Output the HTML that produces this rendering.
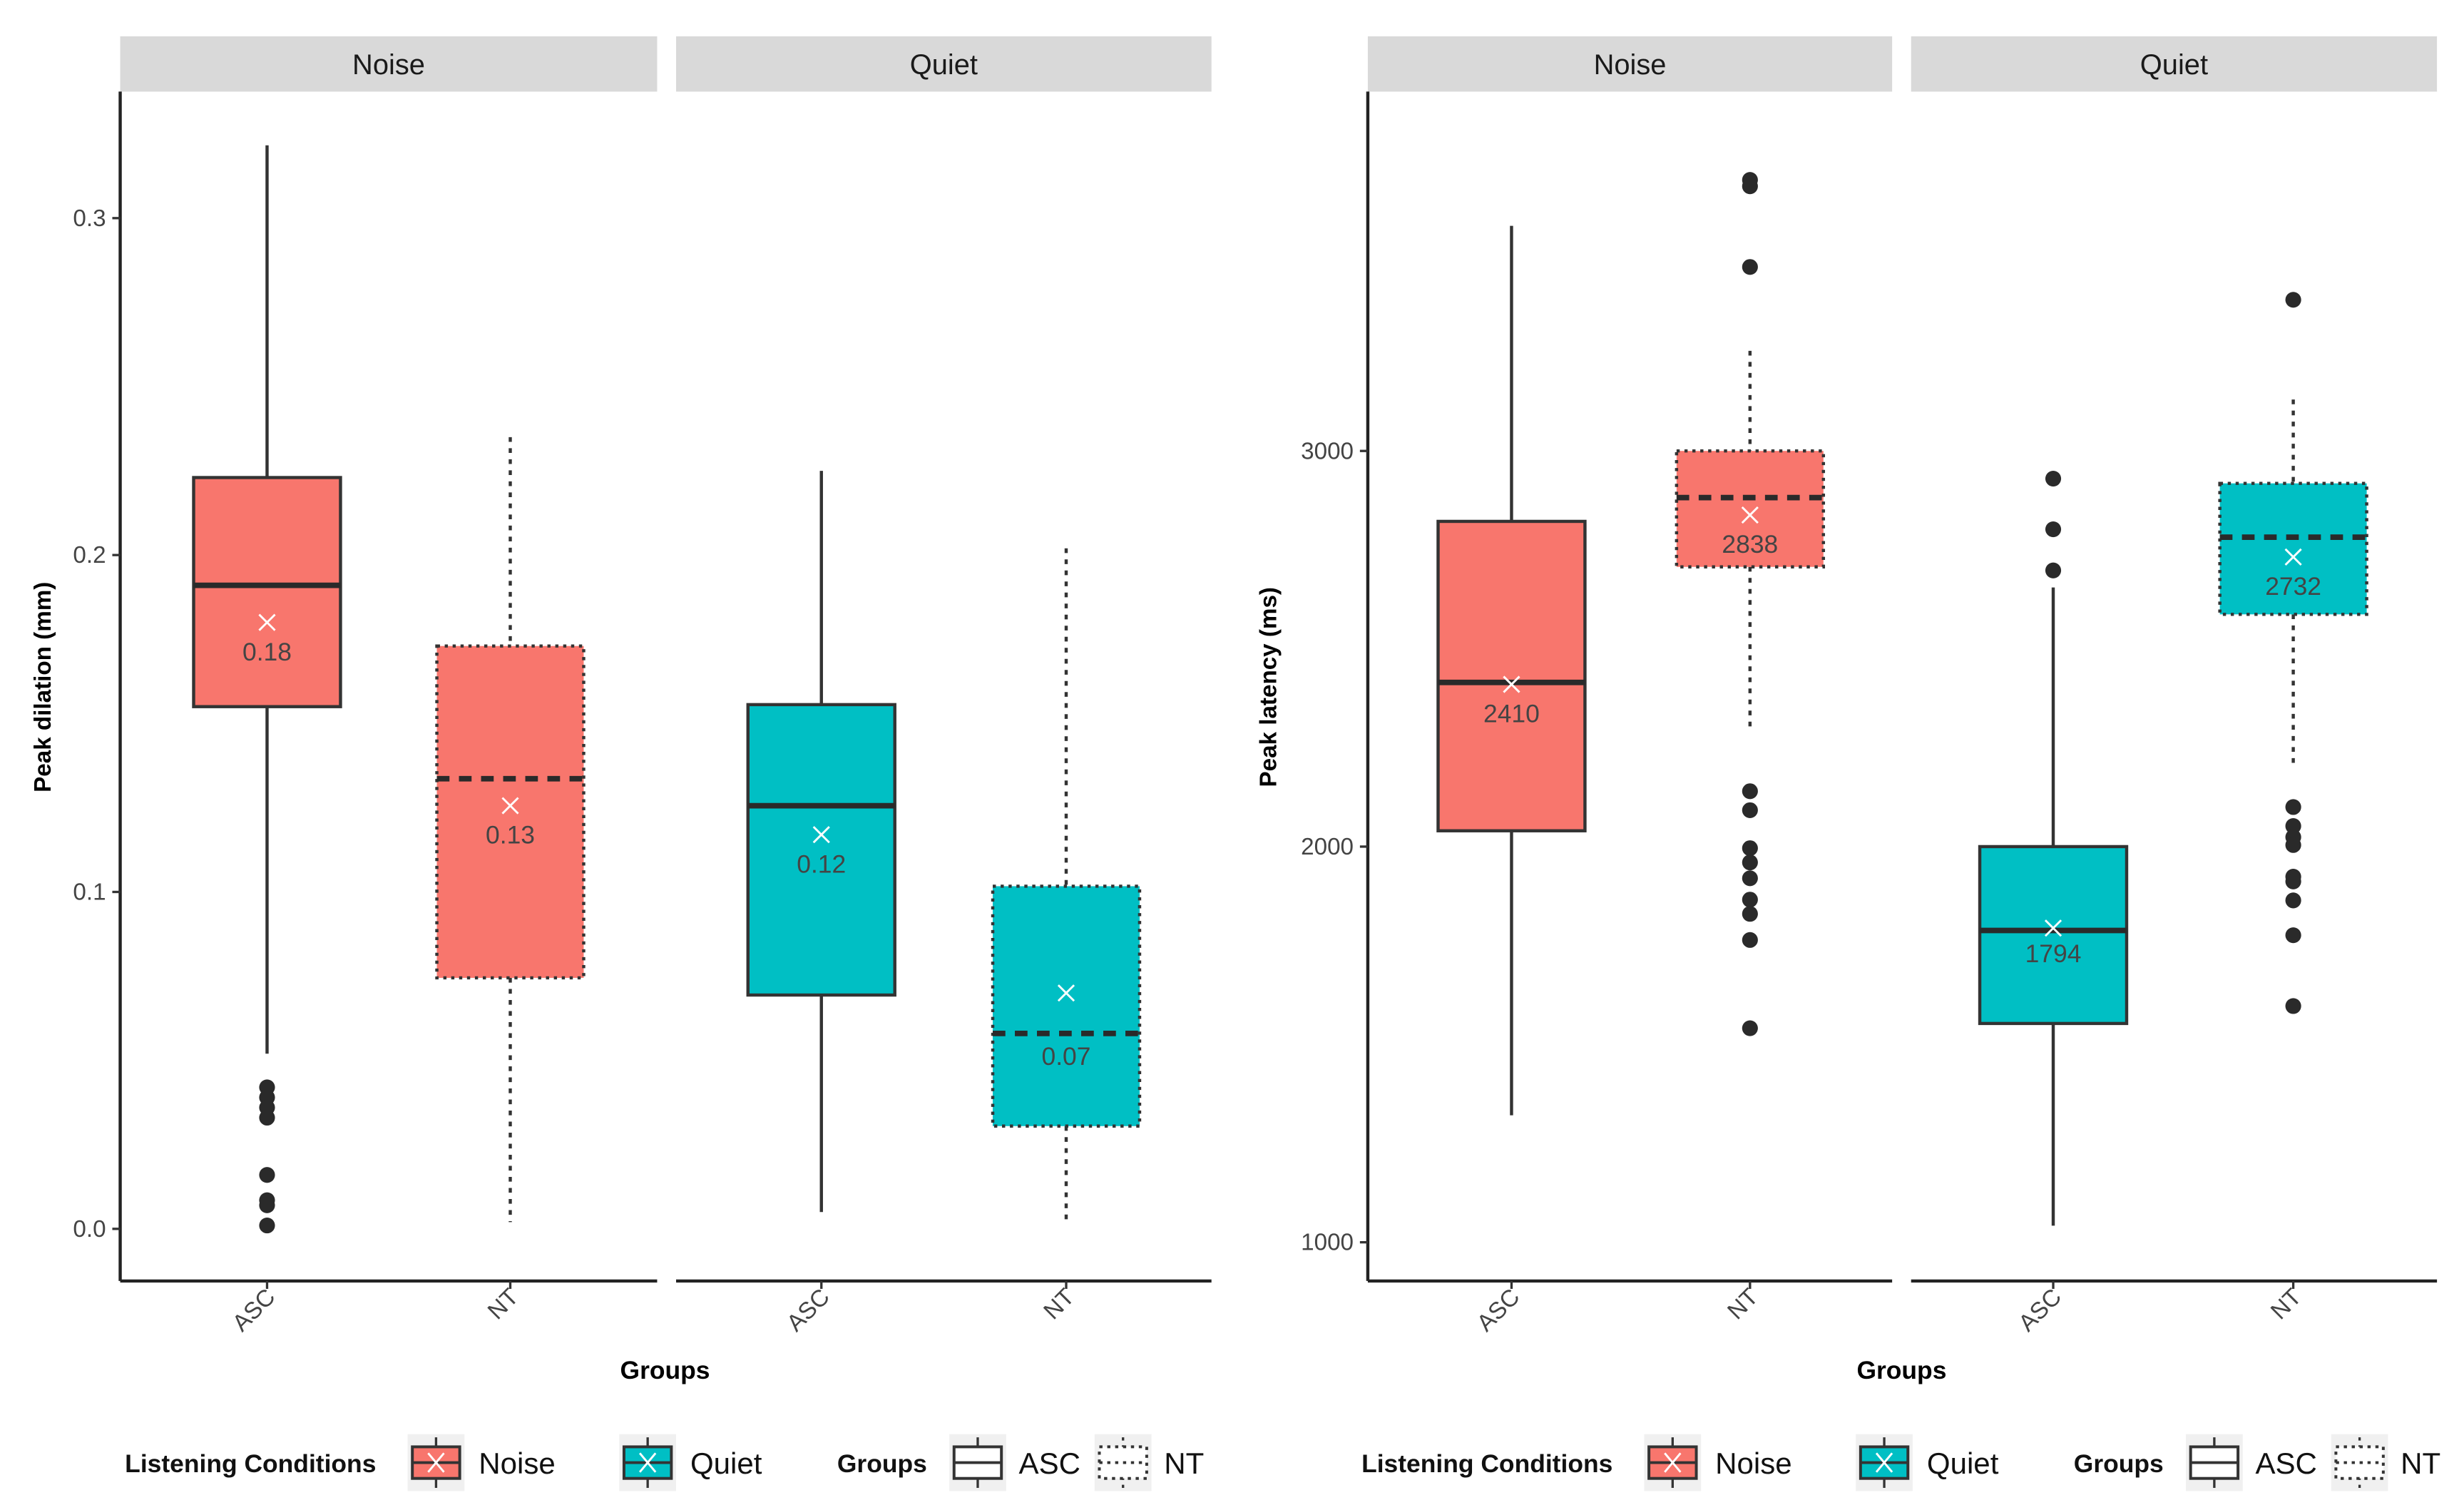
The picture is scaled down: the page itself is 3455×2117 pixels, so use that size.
<!DOCTYPE html>
<html><head><meta charset="utf-8"><style>
html,body{margin:0;padding:0;background:#fff;}
svg{display:block;}
text{font-family:"Liberation Sans",sans-serif;}
</style></head><body>
<svg id="root" width="3455" height="2117" viewBox="0 0 1560 956" xmlns="http://www.w3.org/2000/svg"></svg>
<script>
// ---- data: left chart (Peak dilation, mm) ----
const conditions = ["Noise","Quiet"];
const groups = ["ASC","NT"];
const dilTicks = [0.0,0.1,0.2,0.3];
const dilTickLabels = ["0.0","0.1","0.2","0.3"];
// order: Noise-ASC, Noise-NT, Quiet-ASC, Quiet-NT
const dilQ1 = [0.155,0.0745,0.0694,0.0305];
const dilMedian = [0.191,0.1336,0.1256,0.058];
const dilQ3 = [0.223,0.173,0.1556,0.1017];
const dilLow = [0.052,0.002,0.005,0.001];
const dilHigh = [0.3216,0.235,0.225,0.202];
const dilMean = [0.18,0.1256,0.117,0.070];
const dilMeanLabels = ["0.18","0.13","0.12","0.07"];
const dilOutliers = [[0.042,0.039,0.036,0.033,0.016,0.0085,0.007,0.001],[],[],[]];
// ---- data: right chart (Peak latency, ms) ----
const latTicks = [1000,2000,3000];
const latTickLabels = ["1000","2000","3000"];
const latQ1 = [2040,2707,1553,2587];
const latMedian = [2415,2882,1788,2782];
const latQ3 = [2822,3000,2000,2918];
const latLow = [1321,2303,1042,2196];
const latHigh = [3569,3253,2655,3130];
const latMean = [2410,2838,1794,2732];
const latMeanLabels = ["2410","2838","1794","2732"];
const latOutliers = [[],[3685,3669,3465,2140,2092,1996,1960,1920,1866,1830,1764,1541],[2930,2802,2698],[3382,2100,2052,2024,2004,1924,1912,1864,1776,1597]];

const NS="http://www.w3.org/2000/svg";
const root=document.getElementById('root');
const fills=["#F8766D","#00BFC4"];
function el(tag,attrs,parent,txt){const e=document.createElementNS(NS,tag);for(const k in attrs)e.setAttribute(k,attrs[k]);if(txt!==undefined)e.textContent=txt;(parent||root).appendChild(e);return e;}

function chart(cfg){
  const g=el('g',{});
  
  
  const y=v=>cfg.y0-(v-cfg.v0)*cfg.k;
  cfg.panels.forEach((p,pi)=>{
    const s=el('rect',{x:p[0],y:23,width:p[1]-p[0],height:35,fill:'#D9D9D9'},g);
    
    
    const t=el('text',{x:(p[0]+p[1])/2,y:47,'text-anchor':'middle','font-size':18,fill:'#1a1a1a'},g,conditions[pi]);
    
    
    const ax=el('line',{x1:p[0],x2:p[1],y1:811,y2:811,stroke:'#222','stroke-width':2},g);
    
    
    groups.forEach((gr,gi)=>{
      const cx=p[2+gi];
      el('line',{x1:cx,x2:cx,y1:811,y2:816,stroke:'#333','stroke-width':1.5},g);
      const lt=el('text',{x:0,y:0,'text-anchor':'end','font-size':15,fill:'#444',transform:`translate(${cx+6},${822}) rotate(-45)`},g,gr);
      
      
    });
  });
  const ya=el('line',{x1:cfg.axX,x2:cfg.axX,y1:58,y2:811,stroke:'#222','stroke-width':2},g);
  
  
  cfg.ticks.forEach((v,i)=>{
    el('line',{x1:cfg.axX-5,x2:cfg.axX,y1:y(v),y2:y(v),stroke:'#333','stroke-width':1.5},g);
    const t=el('text',{x:cfg.axX-9,y:y(v)+5,'text-anchor':'end','font-size':15,fill:'#444'},g,cfg.tickLabels[i]);
    
    
  });
  const yt=el('text',{x:0,y:0,'text-anchor':'middle','font-size':15,'font-weight':'bold',fill:'#000',transform:`translate(${cfg.titleX},435) rotate(-90)`},g,cfg.title);
  
  
  const xt=el('text',{x:cfg.groupsX,y:873,'text-anchor':'middle','font-size':16,'font-weight':'bold',fill:'#000'},g,'Groups');
  
  
  for(let i=0;i<4;i++){
    const pi=Math.floor(i/2),gi=i%2;
    const cx=cfg.panels[pi][2+gi],hw=46.5;
    const dash=gi===1;
    const bg=el('g',{},g);
    
    
    const wl={stroke:'#333','stroke-width':2};if(dash)wl['stroke-dasharray']='3,4';
    el('line',Object.assign({x1:cx,x2:cx,y1:y(cfg.high[i]),y2:y(cfg.q3[i])},wl),bg);
    el('line',Object.assign({x1:cx,x2:cx,y1:y(cfg.q1[i]),y2:y(cfg.low[i])},wl),bg);
    const ba={x:cx-hw,y:y(cfg.q3[i]),width:2*hw,height:y(cfg.q1[i])-y(cfg.q3[i]),fill:fills[pi],stroke:'#333','stroke-width':2};
    if(dash)ba['stroke-dasharray']='2,3';
    el('rect',ba,bg);
    const ml={x1:cx-hw,x2:cx+hw,y1:y(cfg.median[i]),y2:y(cfg.median[i]),stroke:'#2a2a2a','stroke-width':3.5};
    if(dash)ml['stroke-dasharray']='8,6';
    el('line',ml,bg);
    const my=y(cfg.mean[i]);
    el('path',{d:`M${cx-5},${my-5}L${cx+5},${my+5}M${cx-5},${my+5}L${cx+5},${my-5}`,stroke:'#fff','stroke-width':1.3},bg);
    const medY=y(cfg.median[i]);
    let ly=my+24;
    if(medY>my && medY<ly+4) ly=medY+20;
    const mt=el('text',{x:cx,y:ly,'text-anchor':'middle','font-size':16,fill:'#444'},bg,cfg.meanLabels[i]);
    
    
    cfg.outliers[i].forEach(v=>{
      const c=el('circle',{cx:cx,cy:y(v),r:5,fill:'#2a2a2a'},bg);
      
      
    });
  }
  const L=cfg.legX;
  const lg=el('g',{transform:`translate(${L},0)`},g);
  
  
  const lt1=el('text',{x:79,y:932,'font-size':16,'font-weight':'bold',fill:'#111'},lg,'Listening Conditions');
  
  
  const lt2=el('text',{x:530,y:932,'font-size':16,'font-weight':'bold',fill:'#111'},lg,'Groups');
  
  
  const keys=[[258,fills[0],false,true,'Noise',303],[392,fills[1],false,true,'Quiet',437],[601,'#fff',false,false,'ASC',645],[693,'#fff',true,false,'NT',737]];
  keys.forEach(k=>{
    const kg=el('g',{},lg);
    
    
    el('rect',{x:k[0],y:908,width:36,height:36,fill:'#F0F0F0'},kg);
    const da=k[2]?{'stroke-dasharray':'2,3'}:{};
    el('line',Object.assign({x1:k[0]+18,x2:k[0]+18,y1:910,y2:942,stroke:'#333','stroke-width':1.5},da),kg);
    el('rect',Object.assign({x:k[0]+3,y:916,width:30,height:20,fill:k[1],stroke:'#333','stroke-width':1.8},da),kg);
    el('line',Object.assign({x1:k[0]+3,x2:k[0]+33,y1:926,y2:926,stroke:'#333','stroke-width':1.8},da),kg);
    if(k[3])el('path',{d:`M${k[0]+13},${920}L${k[0]+23},${932}M${k[0]+13},${932}L${k[0]+23},${920}`,stroke:'#fff','stroke-width':1.3},kg);
    el('text',{x:k[5],y:933,'font-size':19,fill:'#111'},kg,k[4]);
  });
}
chart({name:'dilation-chart',y0:778,v0:0,k:2133,axX:76,panels:[[76,416,169,323],[428,767,520,675]],
  ticks:dilTicks,tickLabels:dilTickLabels,title:'Peak dilation (mm)',titleX:32,groupsX:421,legX:0,
  q1:dilQ1,median:dilMedian,q3:dilQ3,low:dilLow,high:dilHigh,mean:dilMean,meanLabels:dilMeanLabels,outliers:dilOutliers});
chart({name:'latency-chart',y0:536,v0:2000,k:0.2505,axX:866,panels:[[866,1198,957,1108],[1210,1543,1300,1452]],
  ticks:latTicks,tickLabels:latTickLabels,title:'Peak latency (ms)',titleX:808,groupsX:1204,legX:783,
  q1:latQ1,median:latMedian,q3:latQ3,low:latLow,high:latHigh,mean:latMean,meanLabels:latMeanLabels,outliers:latOutliers});
</script>
</body></html>
